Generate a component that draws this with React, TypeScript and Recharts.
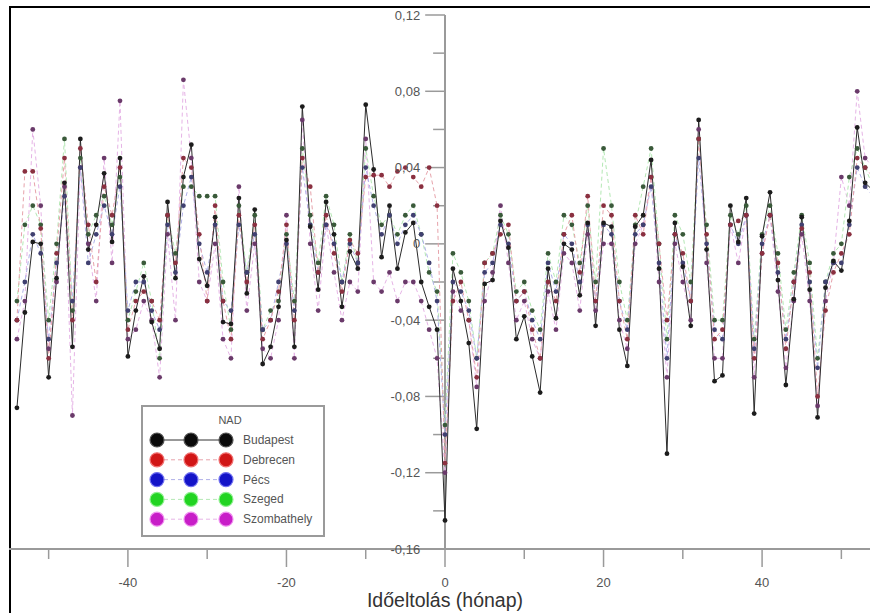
import React from 'react';
import { LineChart, Line, XAxis, YAxis, ReferenceLine } from 'recharts';

const lags = [
  -54, -53, -52, -51, -50, -49, -48, -47, -46, -45, -44, -43, -42, -41, -40, -39, -38, -37, -36, -35,
  -34, -33, -32, -31, -30, -29, -28, -27, -26, -25, -24, -23, -22, -21, -20, -19, -18, -17, -16, -15,
  -14, -13, -12, -11, -10, -9, -8, -7, -6, -5, -4, -3, -2, -1, 0, 1, 2, 3, 4, 5,
  6, 7, 8, 9, 10, 11, 12, 13, 14, 15, 16, 17, 18, 19, 20, 21, 22, 23, 24, 25,
  26, 27, 28, 29, 30, 31, 32, 33, 34, 35, 36, 37, 38, 39, 40, 41, 42, 43, 44, 45,
  46, 47, 48, 49, 50, 51, 52, 53, 54,
];

const budapest = [
  -0.086, -0.036, 0.001, 0.0, -0.07, -0.018, 0.032, -0.054, 0.055, -0.003, 0.01, 0.037, 0.001, 0.045, -0.059, -0.035, -0.017, -0.041, -0.055, 0.022,
  -0.018, 0.035, 0.052, -0.008, -0.022, 0.014, -0.041, -0.042, 0.024, -0.026, 0.018, -0.063, -0.054, -0.033, 0.002, -0.054, 0.072, 0.009, -0.024, 0.022,
  0.005, -0.033, -0.004, -0.013, 0.073, 0.039, -0.007, 0.02, -0.013, 0.006, 0.011, -0.02, -0.033, -0.045, -0.145, -0.013, -0.03, -0.052, -0.097, -0.021,
  -0.019, 0.012, -0.002, -0.05, -0.038, -0.059, -0.078, -0.013, -0.039, 0.0, -0.003, -0.027, 0.011, -0.043, 0.011, 0.009, -0.045, -0.064, 0.009, 0.015,
  0.044, -0.013, -0.11, 0.011, -0.012, -0.043, 0.065, -0.003, -0.072, -0.069, 0.02, 0.001, 0.024, -0.089, 0.004, 0.027, -0.019, -0.074, -0.029, 0.014,
  -0.024, -0.091, -0.023, -0.009, -0.014, 0.012, 0.061, 0.032, 0.028,
];

const debrecen = [
  -0.04, 0.038, 0.038, 0.008, -0.06, -0.005, 0.045, -0.04, 0.05, 0.01, -0.02, 0.03, 0.015, 0.04, -0.045, -0.03, -0.025, -0.03, -0.04, 0.015,
  -0.01, 0.045, 0.04, 0.005, -0.03, 0.02, -0.03, -0.05, 0.015, -0.02, 0.01, -0.05, -0.04, -0.025, 0.01, -0.04, 0.045, 0.03, -0.015, 0.015,
  -0.005, -0.025, 0.002, -0.005, 0.035, 0.036, 0.036, 0.03, 0.038, 0.04, 0.035, 0.03, 0.04, 0.02, -0.115, -0.03, -0.02, -0.04, -0.07, -0.01,
  -0.005, 0.005, 0.01, -0.03, -0.025, -0.045, -0.06, -0.02, -0.03, 0.005, 0.015, -0.015, 0.025, -0.03, 0.02, 0.015, -0.03, -0.05, 0.015, 0.005,
  0.035, 0.0, -0.04, 0.005, -0.005, -0.03, 0.055, 0.005, -0.05, -0.045, 0.01, 0.012, 0.015, -0.06, -0.005, 0.015, -0.01, -0.055, -0.02, 0.008,
  -0.015, -0.08, -0.035, -0.015, -0.005, 0.005, 0.045, 0.04, 0.035,
];

const pecs = [
  -0.04, -0.02, 0.005, -0.005, -0.05, -0.01, 0.025, -0.03, 0.04, -0.01, 0.005, 0.02, 0.005, 0.03, -0.035, -0.02, -0.02, -0.035, -0.045, 0.01,
  -0.015, 0.02, 0.035, 0.0, -0.015, 0.01, -0.03, -0.035, 0.01, -0.015, 0.005, -0.045, -0.04, -0.02, 0.0, -0.035, 0.04, 0.01, -0.015, 0.01,
  0.0, -0.02, 0.0, -0.01, 0.04, 0.02, 0.005, 0.015, 0.0, 0.01, 0.015, 0.005, -0.01, -0.03, -0.1, -0.02, -0.025, -0.035, -0.06, -0.015,
  -0.01, 0.01, 0.0, -0.03, -0.025, -0.04, -0.05, -0.01, -0.025, 0.005, 0.0, -0.02, 0.01, -0.03, 0.01, 0.005, -0.03, -0.045, 0.005, 0.01,
  0.03, -0.01, -0.06, 0.005, -0.01, -0.03, 0.045, 0.0, -0.045, -0.05, 0.01, 0.0, 0.015, -0.055, 0.0, 0.015, -0.015, -0.05, -0.02, 0.01,
  -0.02, -0.065, -0.02, -0.01, -0.01, 0.01, 0.04, 0.03, 0.025,
];

const szeged = [
  -0.03, 0.01, 0.02, 0.01, -0.04, 0.0, 0.055, -0.035, 0.045, 0.005, 0.015, 0.025, 0.01, 0.035, -0.04, -0.025, -0.01, -0.03, -0.06, 0.015,
  -0.005, 0.03, 0.03, 0.025, 0.025, 0.025, -0.02, -0.045, 0.02, -0.015, 0.015, -0.045, -0.035, -0.03, 0.005, -0.03, 0.05, 0.015, -0.01, 0.025,
  0.01, -0.02, 0.005, -0.01, 0.05, 0.025, 0.01, 0.015, 0.005, 0.015, 0.02, 0.005, -0.015, -0.025, -0.095, -0.005, -0.015, -0.03, -0.06, -0.01,
  -0.005, 0.015, 0.005, -0.025, -0.02, -0.035, -0.045, -0.005, -0.02, 0.015, 0.01, -0.01, 0.02, -0.02, 0.05, 0.02, -0.02, -0.04, 0.01, 0.03,
  0.05, 0.0, -0.05, 0.015, 0.005, -0.02, 0.055, 0.01, -0.04, -0.04, 0.015, 0.005, 0.02, -0.05, 0.005, 0.02, -0.005, -0.045, -0.015, 0.015,
  -0.01, -0.06, -0.02, -0.005, 0.0, 0.035, 0.05, 0.04, 0.03,
];

const szombathely = [
  -0.05, -0.03, 0.06, 0.02, -0.055, -0.02, 0.03, -0.09, 0.04, 0.0, -0.03, 0.045, -0.01, 0.075, -0.05, -0.045, -0.03, -0.04, -0.07, 0.005,
  -0.04, 0.086, 0.045, -0.02, -0.03, 0.0, -0.05, -0.06, 0.03, -0.035, 0.0, -0.055, -0.06, -0.04, 0.015, -0.06, 0.065, 0.0, -0.035, 0.01,
  -0.015, -0.04, -0.02, -0.025, 0.055, -0.02, -0.025, -0.015, -0.03, -0.02, -0.02, -0.03, -0.045, -0.06, -0.12, -0.025, -0.035, -0.04, -0.075, -0.03,
  -0.015, 0.02, -0.01, -0.04, -0.03, -0.05, -0.06, -0.025, -0.045, -0.005, -0.01, -0.035, 0.005, -0.035, 0.0, 0.0, -0.04, -0.055, 0.0, 0.01,
  0.035, -0.02, -0.07, 0.0, -0.02, -0.04, 0.06, -0.01, -0.06, -0.06, 0.01, -0.01, 0.015, -0.07, -0.005, 0.015, -0.025, -0.065, -0.03, 0.005,
  -0.03, -0.085, -0.03, -0.01, 0.035, 0.02, 0.08, 0.045, 0.04,
];

const seriesNames = ['Budapest', 'Debrecen', 'Pécs', 'Szeged', 'Szombathely'];
const legendTitle = 'NAD';
const xTitle = 'Időeltolás (hónap)';

const xTicks = [-50, -40, -30, -20, -10, 0, 10, 20, 30, 40, 50];
const xLabeledTicks = [-40, -20, 0, 20, 40];
const yMajorTicks = [0.12, 0.08, 0.04, 0, -0.04, -0.08, -0.12, -0.16];
const yMajorLabels = ['0,12', '0,08', '0,04', '0', '-0,04', '-0,08', '-0,12', '-0,16'];
const yMinorTicks = [0.1, 0.06, 0.02, -0.02, -0.06, -0.1, -0.14];

const data = lags.map((lag, i) => ({
  lag,
  Budapest: budapest[i],
  Debrecen: debrecen[i],
  'Pécs': pecs[i],
  Szeged: szeged[i],
  Szombathely: szombathely[i],
}));

const styles: Record<string, { line: string; dot: string; legend: string; rim: string; dash?: string }> = {
  Budapest: { line: '#2b2b2b', dot: '#1c1c1c', legend: '#0a0a0a', rim: '#555' },
  Debrecen: { line: '#e7a3ab', dot: '#8a3040', legend: '#d11616', rim: '#f07070', dash: '4 3' },
  'Pécs': { line: '#b0b0e8', dot: '#404070', legend: '#1414c8', rim: '#7070f0', dash: '4 3' },
  Szeged: { line: '#b4e8b4', dot: '#3a5a3a', legend: '#22d422', rim: '#90f090', dash: '4 3' },
  Szombathely: { line: '#e6b4e6', dot: '#6a3a6a', legend: '#c81ec8', rim: '#f090f0', dash: '4 3' },
};

const FONT = '"Liberation Sans", Arial, sans-serif';

const XTick = (props: any) => {
  const { x, y, payload } = props;
  const major = xLabeledTicks.includes(payload.value);
  return (
    <g>
      <line x1={x} x2={x} y1={y} y2={y + (major ? 18 : 10)} stroke="#9a9a9a" strokeWidth={1.5} />
      {major && (
        <text x={x} y={y + 38} textAnchor="middle" fontSize={13} fill="#555" fontFamily={FONT}>
          {payload.value}
        </text>
      )}
    </g>
  );
};

const drawOrder = ['Szombathely', 'Szeged', 'Pécs', 'Debrecen', 'Budapest'];

export default function App() {
  return (
    <div style={{ position: 'fixed', left: 0, top: 0, width: 870, height: 613, overflow: 'hidden', background: '#fff' }}>
      <div
        style={{
          position: 'absolute',
          left: 9,
          top: 6,
          width: 1000,
          height: 1000,
          borderLeft: '2px solid #000',
          borderTop: '2px solid #000',
        }}
      />
      <div style={{ position: 'absolute', left: 0, top: 0 }}>
        <LineChart width={890} height={613} data={data} margin={{ top: 15, right: 9, bottom: 0, left: 9 }}>
          <XAxis
            dataKey="lag"
            type="number"
            domain={[-55, 55]}
            ticks={xTicks}
            tick={<XTick />}
            tickLine={false}
            tickSize={0}
            tickMargin={0}
            interval={0}
            height={64}
            axisLine={{ stroke: '#9a9a9a', strokeWidth: 2 }}
            label={{ value: xTitle, position: 'insideBottom', offset: 6, fontSize: 19.5, fill: '#333', fontFamily: FONT }}
          />
          <YAxis type="number" domain={[-0.16, 0.12]} hide allowDataOverflow />
          <ReferenceLine x={0} stroke="#9a9a9a" strokeWidth={2} />
          {yMajorTicks.map((v, i) => (
            <ReferenceLine
              key={'M' + v}
              segment={[{ x: -2.5, y: v }, { x: 0, y: v }]}
              stroke="#9a9a9a"
              strokeWidth={1.5}
              ifOverflow="visible"
              label={{ value: yMajorLabels[i], position: 'left', offset: 5, fontSize: 13, fill: '#555', fontFamily: FONT }}
            />
          ))}
          {yMinorTicks.map((v) => (
            <ReferenceLine
              key={'m' + v}
              segment={[{ x: -1.5, y: v }, { x: 0, y: v }]}
              stroke="#9a9a9a"
              strokeWidth={1.5}
              ifOverflow="visible"
            />
          ))}
          {drawOrder.map((name) => {
            const s = styles[name];
            return (
              <Line
                key={name}
                dataKey={name}
                name={name}
                type="linear"
                stroke={s.line}
                strokeWidth={1}
                strokeDasharray={s.dash}
                dot={{ r: 2.4, fill: s.dot, stroke: 'none' }}
                activeDot={false}
                isAnimationActive={false}
              />
            );
          })}
        </LineChart>
      </div>
      <div
        style={{
          position: 'absolute',
          left: 141,
          top: 405,
          width: 184,
          height: 132,
          boxSizing: 'border-box',
          border: '2px solid #9a9a9a',
          background: '#fff',
        }}
      >
        <svg width={180} height={128} style={{ display: 'block' }}>
          <text x={87} y={17} textAnchor="middle" fontSize={11} fill="#555" fontFamily={FONT}>
            {legendTitle}
          </text>
          {seriesNames.map((name, i) => {
            const s = styles[name];
            const cy = 33 + i * 19.8;
            return (
              <g key={name}>
                <line x1={14} x2={83} y1={cy} y2={cy} stroke={name === 'Budapest' ? '#333' : s.line} strokeWidth={1} strokeDasharray={s.dash} />
                {[14, 48, 83].map((cx) => (
                  <circle key={cx} cx={cx} cy={cy} r={7} fill={s.legend} stroke={s.rim} strokeWidth={1.2} />
                ))}
                <text x={100} y={cy + 4} fontSize={12} fill="#555" fontFamily={FONT}>
                  {name}
                </text>
              </g>
            );
          })}
        </svg>
      </div>
    </div>
  );
}
